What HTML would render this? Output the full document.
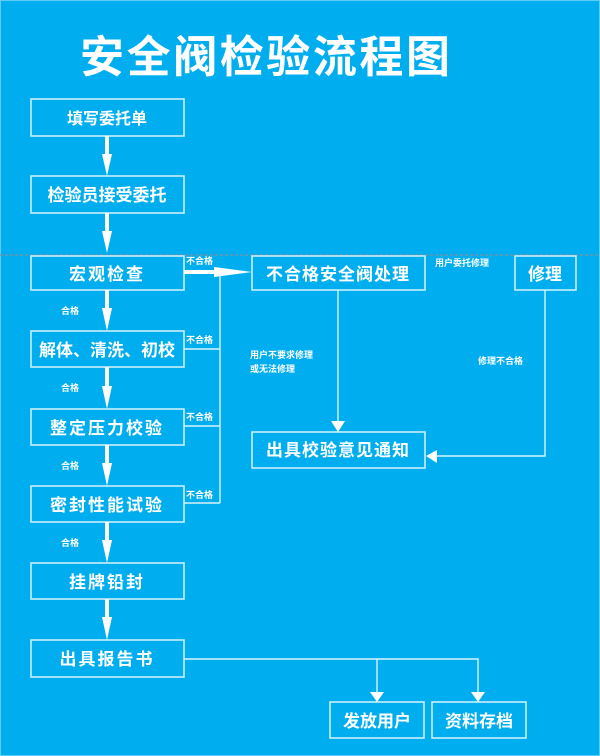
<!DOCTYPE html>
<html><head><meta charset="utf-8"><style>
html,body{margin:0;padding:0;background:#00aeef;}
svg{display:block}
text{font-family:"Liberation Sans","Noto Sans CJK SC",sans-serif;fill:#fff;font-weight:bold}
</style></head><body>
<svg width="600" height="756" viewBox="0 0 600 756" xmlns="http://www.w3.org/2000/svg">
<rect x="0" y="0" width="600" height="756" fill="#00aeef"/>
<rect x="0.5" y="0.5" width="599" height="755" fill="none" stroke="#5fcdf5" stroke-width="1"/>
<text x="80" y="72" font-size="44" textLength="370" lengthAdjust="spacing">安全阀检验流程图</text>
<line x1="0" y1="255" x2="600" y2="255" stroke="#8a8f99" stroke-width="1.2" stroke-dasharray="3,2"/>
<g fill="none" stroke="#c8eefc" stroke-width="1.6">
<rect x="31" y="99" width="153" height="37"/>
<rect x="31" y="176" width="153" height="37"/>
<rect x="31" y="256" width="153" height="34"/>
<rect x="31" y="331" width="153" height="36"/>
<rect x="31" y="409" width="153" height="36"/>
<rect x="31" y="486" width="153" height="36"/>
<rect x="31" y="563" width="153" height="36"/>
<rect x="31" y="640" width="153" height="37"/>
<rect x="252" y="256" width="173" height="34"/>
<rect x="515" y="256" width="61" height="34"/>
<rect x="252" y="432" width="173" height="36"/>
<rect x="330" y="702" width="94" height="36"/>
<rect x="432" y="702" width="94" height="36"/>
</g>
<g font-size="17" text-anchor="middle">
<text x="107" y="124" font-size="16">填写委托单</text>
<text x="107" y="201">检验员接受委托</text>
<text x="107" y="280" letter-spacing="2">宏观检查</text>
<text x="107" y="356">解体、清洗、初校</text>
<text x="107" y="434" letter-spacing="2">整定压力校验</text>
<text x="107" y="511" letter-spacing="2">密封性能试验</text>
<text x="107" y="588" letter-spacing="2">挂牌铅封</text>
<text x="107" y="665" letter-spacing="2">出具报告书</text>
<text x="338" y="280" letter-spacing="1">不合格安全阀处理</text>
<text x="545" y="280">修理</text>
<text x="338" y="456" letter-spacing="1">出具校验意见通知</text>
<text x="377" y="727">发放用户</text>
<text x="479" y="727">资料存档</text>
</g>
<g font-size="9" font-weight="normal">
<text x="61" y="314">合格</text>
<text x="61" y="391">合格</text>
<text x="61" y="469">合格</text>
<text x="61" y="546">合格</text>
<text x="186" y="264">不合格</text>
<text x="186" y="343">不合格</text>
<text x="186" y="420">不合格</text>
<text x="186" y="498">不合格</text>
<text x="435" y="266">用户委托修理</text>
<text x="250" y="358">用户不要求修理</text>
<text x="250" y="372">或无法修理</text>
<text x="478" y="364">修理不合格</text>
</g>
<g fill="#fff">
<rect x="105" y="136" width="4" height="20"/><polygon points="102,154 112,154 107,176"/>
<rect x="105" y="213" width="4" height="20"/><polygon points="102,231 112,231 107,253"/>
<rect x="105" y="290" width="4" height="20"/><polygon points="102,308 112,308 107,331"/>
<rect x="105" y="367" width="4" height="20"/><polygon points="102,386 112,386 107,409"/>
<rect x="105" y="445" width="4" height="20"/><polygon points="102,463 112,463 107,486"/>
<rect x="105" y="522" width="4" height="20"/><polygon points="102,540 112,540 107,563"/>
<rect x="105" y="599" width="4" height="20"/><polygon points="102,617 112,617 107,640"/>
<rect x="184" y="270" width="35" height="4"/>
<polygon points="214,267 214,277 252,272"/>
<polygon points="331,421 345,421 338,432"/>
<polygon points="437,450 437,463 426,456"/>
<polygon points="370,692 384,692 377,702"/>
<polygon points="471,692 485,692 478,702"/>
</g>
<g fill="none" stroke="#d8f3fd" stroke-width="1.4">
<line x1="220" y1="274" x2="220" y2="503"/>
<polyline points="184,349 220,349"/>
<polyline points="184,426 220,426"/>
<polyline points="184,503 220,503"/>
<line x1="338" y1="290" x2="338" y2="422"/>
<polyline points="545,290 545,456 436,456"/>
<polyline points="184,659 478,659 478,693"/>
<line x1="377" y1="659" x2="377" y2="693"/>
</g>
</svg>
</body></html>
